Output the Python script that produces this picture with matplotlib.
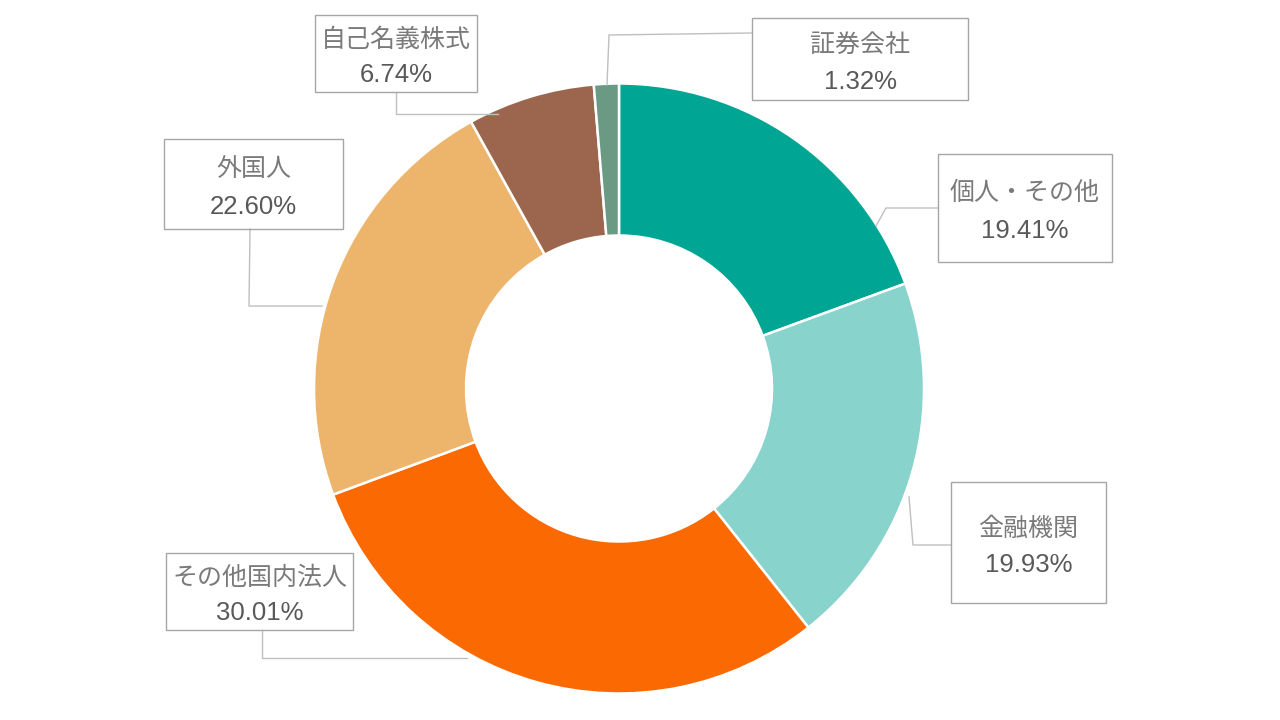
import matplotlib.pyplot as plt
from matplotlib.patches import Rectangle

plt.rcParams['font.family'] = ['Liberation Sans', 'Noto Sans CJK JP', 'DejaVu Sans']

# 株主構成 (clockwise from top)
labels = ['個人・その他', '金融機関', 'その他国内法人', '外国人', '自己名義株式', '証券会社']
shares = [19.41, 19.93, 30.01, 22.60, 6.74, 1.32]
colors = ['#00A693', '#88D3CC', '#FB6A02', '#EDB46C', '#9B664D', '#6A9A84']

# label boxes in pixel coords: (x0, y0, x1, y1)
boxes = [
    (938, 154, 1112, 262),
    (951, 482, 1106, 603),
    (166, 553, 353, 630),
    (164, 139, 343, 229),
    (315, 15, 477, 92),
    (752, 18, 968, 100),
]
text_y = [(193, 231), (529, 565), (578, 613), (169, 207), (40, 75), (45, 82)]
leaders = [
    [(938, 208), (886, 208), (876, 226)],
    [(951, 545), (913, 545), (909, 497)],
    [(262, 630), (262, 658), (467, 658)],
    [(250, 229), (249, 306), (322, 306)],
    [(396, 92), (396, 114), (498, 114)],
    [(752, 33), (609, 35), (607, 85)],
]

fig = plt.figure(figsize=(12.8, 7.2), dpi=100)
ax = fig.add_axes([0, 0, 1, 1])

ax.pie(shares, colors=colors, startangle=-90, counterclock=True,
       center=(619, 388.5), radius=305,
       wedgeprops=dict(width=152, edgecolor='white', linewidth=1.8))

ax.set_xlim(0, 1280)
ax.set_ylim(720, 0)
ax.set_aspect('equal')
ax.axis('off')

for name, val, box, (y1, y2), pts in zip(labels, shares, boxes, text_y, leaders):
    x0, y0, x1, y1b = box
    ax.add_patch(Rectangle((x0, y0), x1 - x0, y1b - y0, fill=False,
                           edgecolor='#A6A6A6', linewidth=1.0, zorder=3))
    cx = (x0 + x1) / 2
    ax.text(cx, y1, name, ha='center', va='center', fontsize=18,
            color='#7A7A7A', zorder=4)
    ax.text(cx, y2, f'{val:.2f}%', ha='center', va='center', fontsize=18.5,
            color='#595959', zorder=4)
    xs = [p[0] for p in pts]
    ys = [p[1] for p in pts]
    ax.plot(xs, ys, color='#BFBFBF', linewidth=1.0, zorder=2)

fig.savefig('out.png', dpi=100)
